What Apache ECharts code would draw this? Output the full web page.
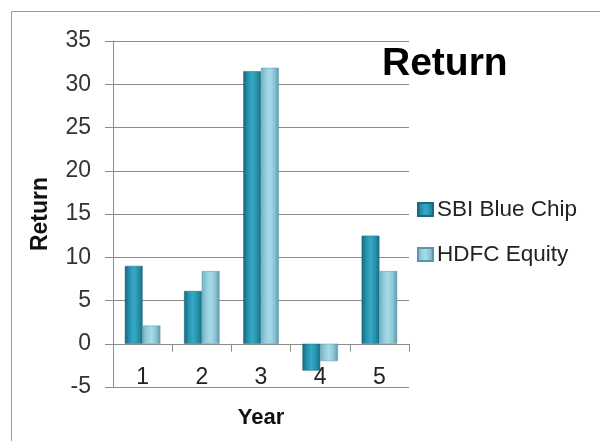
<!DOCTYPE html>
<html>
<head>
<meta charset="utf-8">
<script src="https://cdn.jsdelivr.net/npm/echarts@6/dist/echarts.min.js"></script>
<style>
html,body{margin:0;padding:0;background:#fff;}
#chart{width:600px;height:441px;}
</style>
</head>
<body>
<div id="chart"></div>
<script>
const categories = ['1', '2', '3', '4', '5'];
const sbiBlueChip = [9, 6.1, 31.5, -3.1, 12.5];
const hdfcEquity = [2.1, 8.4, 31.9, -2, 8.4];
const seriesNames = ['SBI Blue Chip', 'HDFC Equity'];

const FONT = 'Liberation Sans';
const chart = echarts.init(document.getElementById('chart'), null, {renderer: 'canvas'});

function hGrad(stops) {
  return new echarts.graphic.LinearGradient(0, 0, 1, 0, stops.map((c, i) => ({offset: i / (stops.length - 1), color: c})));
}
const sbiColor = hGrad(['#17657a', '#2591ad', '#36a9c5', '#2893ad', '#1a6c82']);
const hdfcColor = hGrad(['#6fb0c4', '#93cddc', '#a8dae7', '#8cc5d5', '#5f98ab']);

chart.setOption({
  animation: false,
  backgroundColor: '#ffffff',
  title: {
    text: 'Return',
    left: 377,
    top: 40,
    textStyle: {fontFamily: FONT, fontWeight: 'bold', fontSize: 39, color: '#000'}
  },
  legend: {
    orient: 'vertical',
    left: 417,
    top: 198,
    padding: 0,
    itemWidth: 15,
    itemHeight: 13,
    itemGap: 22,
    icon: 'rect',
    textStyle: {fontFamily: FONT, fontSize: 22.5, color: '#222', padding: [0, 0, 0, -1]},
    data: seriesNames
  },
  grid: {left: 113, right: 191, top: 41, bottom: 54, containLabel: false, outerBoundsMode: 'none'},
  xAxis: {
    type: 'category',
    data: categories,
    name: 'Year',
    nameLocation: 'middle',
    nameGap: 20,
    nameTextStyle: {fontFamily: FONT, fontWeight: 'bold', fontSize: 22, color: '#111'},
    axisLine: {onZero: true, lineStyle: {color: '#8c8c8c', width: 1}},
    axisTick: {show: true, alignWithLabel: false, length: 8, lineStyle: {color: '#8c8c8c'}},
    axisLabel: {fontFamily: FONT, fontSize: 23, color: '#222', margin: -21}
  },
  yAxis: {
    type: 'value',
    min: -5,
    max: 35,
    interval: 5,
    name: 'Return',
    nameLocation: 'middle',
    nameGap: 61,
    nameRotate: 90,
    nameTextStyle: {fontFamily: FONT, fontWeight: 'bold', fontSize: 23, color: '#111'},
    axisLine: {show: true, lineStyle: {color: '#8c8c8c', width: 1}},
    axisTick: {show: true, length: 8, lineStyle: {color: '#8c8c8c'}},
    axisLabel: {fontFamily: FONT, fontSize: 23, color: '#333', margin: 22},
    splitLine: {show: true, lineStyle: {color: '#8c8c8c', width: 1}}
  },
  graphic: [
    {type: 'line', shape: {x1: 11.5, y1: 11.5, x2: 600, y2: 11.5}, style: {stroke: '#9a9a9a', lineWidth: 1}, silent: true},
    {type: 'line', shape: {x1: 11.5, y1: 11.5, x2: 11.5, y2: 441}, style: {stroke: '#9a9a9a', lineWidth: 1}, silent: true}
  ],
  series: [
    {
      name: seriesNames[0],
      type: 'bar',
      data: sbiBlueChip,
      barGap: '0%',
      barCategoryGap: '40%',
      itemStyle: {color: sbiColor, borderColor: '#1a6a80', borderWidth: 0.5}
    },
    {
      name: seriesNames[1],
      type: 'bar',
      data: hdfcEquity,
      itemStyle: {color: hdfcColor, borderColor: '#5c96a8', borderWidth: 0.5}
    }
  ]
});
</script>
</body>
</html>
